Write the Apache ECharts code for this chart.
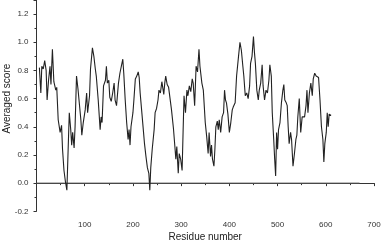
<!DOCTYPE html>
<html>
<head>
<meta charset="utf-8">
<script src="https://cdn.jsdelivr.net/npm/echarts@6/dist/echarts.min.js"></script>
<style>
  html, body { margin: 0; padding: 0; background: #fff; }
  #chart { width: 382px; height: 243px; }
</style>
</head>
<body>
<div id="chart"></div>
<script>
// residue positions
const residues = [
  6, 9, 11, 14, 17, 20, 22, 25, 28, 30, 33, 36, 40, 42, 45, 49, 52, 54, 57, 60,
  63, 65, 68, 71, 73, 75, 78, 80, 83, 86, 89, 92, 94, 97, 101, 104, 106, 110, 112, 116,
  119, 122, 124, 128, 132, 134, 136, 139, 143, 145, 147, 150, 152, 155, 158, 161, 163, 166, 170, 173,
  176, 179, 181, 184, 187, 190, 192, 194, 196, 200, 202, 205, 208, 211, 213, 215, 218, 222, 224, 227,
  230, 233, 235, 237, 240, 244, 246, 249, 252, 254, 257, 260, 262, 264, 266, 268, 271, 274, 277, 280,
  284, 287, 289, 291, 294, 296, 299, 302, 304, 306, 309, 312, 314, 317, 320, 323, 325, 328, 331, 334,
  337, 339, 343, 346, 350, 353, 356, 358, 361, 363, 365, 368, 370, 372, 375, 377, 379, 382, 385, 388,
  390, 392, 394, 397, 400, 403, 406, 408, 412, 415, 419, 422, 425, 428, 430, 433, 436, 439, 442, 444,
  447, 450, 452, 454, 457, 460, 462, 465, 468, 470, 473, 476, 479, 482, 484, 487, 489, 492, 494, 496,
  498, 500, 502, 505, 508, 511, 513, 515, 518, 520, 522, 524, 527, 529, 532, 535, 538, 540, 542, 545,
  548, 551, 554, 556, 559, 561, 563, 566, 569, 572, 574, 577, 580, 583, 585, 588, 591, 594, 596, 598,
  601, 603, 605, 607, 611
];
const scores = [
  0.82, 0.64, 0.83, 0.81, 0.87, 0.80, 0.59, 0.73, 0.83, 0.70, 0.95, 0.72, 0.66, 0.68, 0.45, 0.36, 0.41, 0.24, 0.09, 0.01,
  -0.05, 0.17, 0.50, 0.38, 0.27, 0.36, 0.25, 0.40, 0.76, 0.67, 0.68, 0.45, 0.34, 0.43, 0.52, 0.64, 0.50, 0.62, 0.81, 0.96,
  0.90, 0.81, 0.76, 0.59, 0.38, 0.47, 0.43, 0.69, 0.73, 0.83, 0.71, 0.73, 0.61, 0.58, 0.64, 0.71, 0.59, 0.55, 0.71, 0.78,
  0.83, 0.88, 0.78, 0.59, 0.43, 0.31, 0.38, 0.27, 0.40, 0.50, 0.59, 0.74, 0.76, 0.79, 0.75, 0.64, 0.52, 0.36, 0.28, 0.19,
  0.11, 0.07, -0.05, 0.11, 0.24, 0.38, 0.50, 0.53, 0.59, 0.66, 0.64, 0.72, 0.73, 0.63, 0.71, 0.76, 0.70, 0.68, 0.69, 0.52,
  0.39, 0.26, 0.17, 0.26, 0.07, 0.21, 0.17, 0.09, 0.36, 0.62, 0.50, 0.66, 0.62, 0.69, 0.65, 0.74, 0.71, 0.55, 0.83, 0.79,
  0.95, 0.83, 0.71, 0.66, 0.43, 0.33, 0.21, 0.36, 0.19, 0.27, 0.17, 0.12, 0.24, 0.40, 0.44, 0.38, 0.45, 0.36, 0.47, 0.50,
  0.66, 0.59, 0.57, 0.49, 0.36, 0.43, 0.52, 0.54, 0.57, 0.76, 0.90, 1.00, 0.94, 0.83, 0.76, 0.62, 0.64, 0.60, 0.69, 0.85,
  0.90, 1.04, 0.93, 0.85, 0.66, 0.59, 0.66, 0.71, 0.84, 0.69, 0.59, 0.66, 0.64, 0.73, 0.84, 0.76, 0.50, 0.31, 0.17, 0.05,
  0.36, 0.24, 0.38, 0.43, 0.57, 0.66, 0.70, 0.59, 0.57, 0.55, 0.40, 0.28, 0.36, 0.31, 0.12, 0.21, 0.31, 0.34, 0.47, 0.60,
  0.36, 0.47, 0.46, 0.47, 0.55, 0.66, 0.50, 0.64, 0.71, 0.62, 0.74, 0.78, 0.76, 0.75, 0.75, 0.59, 0.40, 0.31, 0.15, 0.28,
  0.36, 0.50, 0.40, 0.49, 0.48
];
// horizontal reference line at zero
const zeroLineX = [0, 670];
const zeroLineY = [0, 0];

const xTicks = [100, 200, 300, 400, 500, 600, 700];
const yTicks = [-0.2, 0.0, 0.2, 0.4, 0.6, 0.8, 1.0, 1.2];

const chart = echarts.init(document.getElementById('chart'));

const font = 'Liberation Sans, Arial, sans-serif';

const option = {
  animation: false,
  grid: {
    left: 36.5,
    right: 8,
    top: 0,
    bottom: 31.7,
    containLabel: false,
    outerBoundsMode: 'none'
  },
  xAxis: {
    type: 'value',
    min: 0,
    max: 700,
    interval: 100,
    name: 'Residue number',
    nameLocation: 'middle',
    nameGap: 21,
    nameMoveOverlap: false,
    nameTextStyle: { fontFamily: font, fontSize: 10, color: '#222' },
    axisLine: { lineStyle: { color: '#333', width: 1 } },
    axisTick: { show: true, inside: false, length: 3, lineStyle: { color: '#333' } },
    minorTick: { show: true, splitNumber: 2, length: 2, lineStyle: { color: '#333' } },
    splitLine: { show: false },
    axisLabel: {
      fontFamily: font,
      fontSize: 8,
      color: '#333',
      margin: 9,
      formatter: v => (xTicks.indexOf(v) >= 0 ? String(v) : '')
    }
  },
  yAxis: {
    type: 'value',
    min: -0.2,
    max: 1.3,
    interval: 0.2,
    name: 'Averaged score',
    nameLocation: 'middle',
    nameGap: 24,
    nameMoveOverlap: false,
    // nudge the title a little upward, like the original
    nameTextStyle: { fontFamily: font, fontSize: 10, color: '#222', padding: [0, 0, 0, 14] },
    axisLine: { show: true, lineStyle: { color: '#333', width: 1 } },
    axisTick: { show: true, inside: false, length: 3, lineStyle: { color: '#333' } },
    minorTick: { show: true, splitNumber: 2, length: 2, lineStyle: { color: '#333' } },
    splitLine: { show: false },
    axisLabel: {
      fontFamily: font,
      fontSize: 8,
      color: '#333',
      margin: 8,
      formatter: v => {
        const hit = yTicks.find(t => Math.abs(t - v) < 1e-6);
        return hit === undefined ? '' : hit.toFixed(1);
      }
    }
  },
  series: [
    {
      name: 'zero',
      type: 'line',
      data: zeroLineX.map((x, i) => [x, zeroLineY[i]]),
      symbol: 'none',
      silent: true,
      lineStyle: { color: '#555', width: 1 },
      z: 1
    },
    {
      name: 'Averaged score',
      type: 'line',
      data: residues.map((r, i) => [r, scores[i]]),
      symbol: 'none',
      lineStyle: { color: '#222', width: 1.1 },
      z: 2
    }
  ]
};

chart.setOption(option);
</script>
</body>
</html>
